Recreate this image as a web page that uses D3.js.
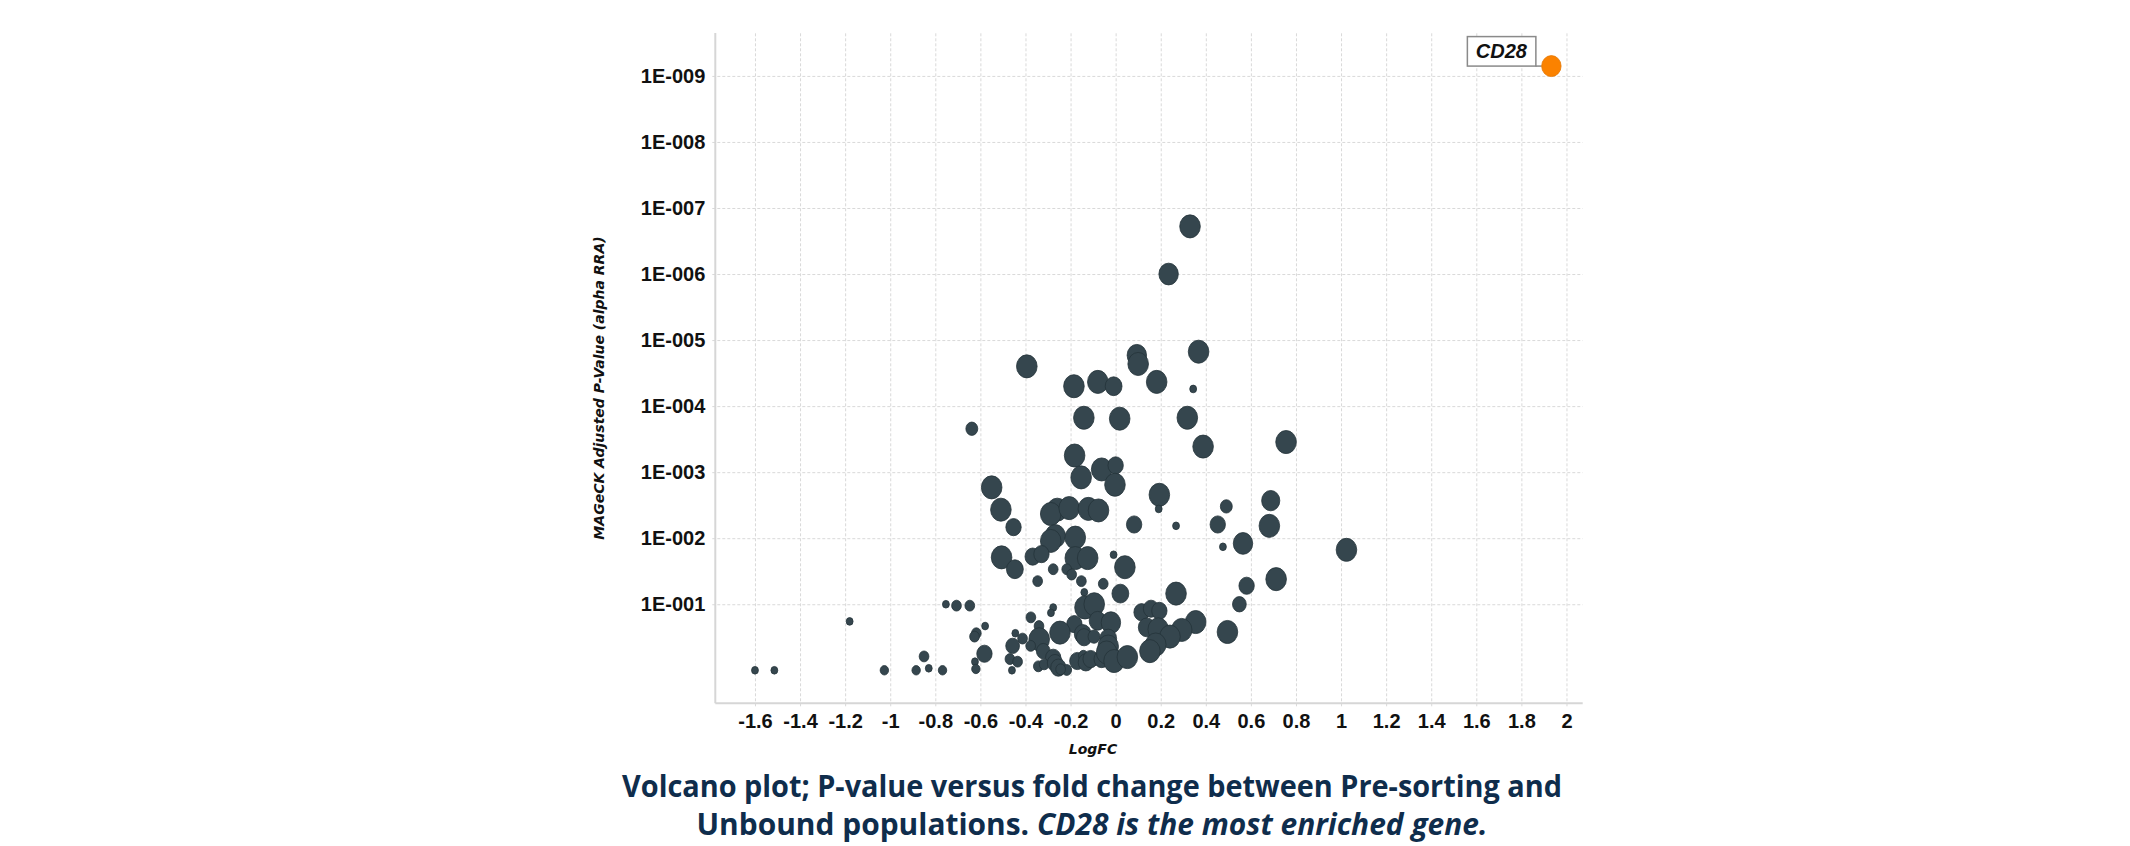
<!DOCTYPE html>
<html>
<head>
<meta charset="utf-8">
<script src="https://cdn.jsdelivr.net/npm/d3@7/dist/d3.min.js"></script>
<style>
	body { margin: 0; background: #fff; }
	svg { display: block; }
</style>
</head>
<body>
<svg id="chart" width="2130" height="846"></svg>
<script>
// x ticks / y ticks
var xTicks = [-1.6, -1.4, -1.2, -1, -0.8, -0.6, -0.4, -0.2, 0, 0.2, 0.4, 0.6, 0.8, 1, 1.2, 1.4, 1.6, 1.8, 2];
var yTicks = [1e-1, 1e-2, 1e-3, 1e-4, 1e-5, 1e-6, 1e-7, 1e-8, 1e-9];
var yTickLabels = ["1E-001", "1E-002", "1E-003", "1E-004", "1E-005", "1E-006", "1E-007", "1E-008", "1E-009"];

// genes (all but the highlighted one)
var logFC = [
	0.33, 0.235, 0.368, 0.094, 0.10, -0.394, -0.185, -0.079, -0.009, 0.182,
	0.344, -0.141, 0.018, 0.318, -0.638, 0.388, 0.756, -0.182, -0.062, 0.0,
	-0.153, -0.003, -0.55, 0.194, 0.191, 0.688, 0.491, -0.509, -0.259, -0.288,
	-0.206, -0.121, -0.076, -0.453, 0.082, 0.268, 0.453, 0.682, -0.268, -0.179,
	-0.288, 0.565, 0.476, 1.024, -0.506, -0.368, -0.329, -0.179, -0.124, -0.009,
	0.041, -0.447, -0.277, -0.217, -0.195, -0.346, -0.152, -0.055, 0.712, 0.581,
	0.021, 0.268, -0.139, -0.753, -0.706, -0.647, -0.277, -0.287, -0.136, -0.095,
	0.549, 0.115, 0.157, 0.194, -1.18, -0.376, -0.183, -0.08, -0.021, 0.355,
	-0.579, -0.34, -0.247, 0.138, 0.189, 0.293, 0.241, 0.496, -0.618, -0.626,
	-0.445, -0.413, -0.339, -0.146, -0.14, -0.096, -0.033, -0.457, -0.377, -0.321,
	-0.033, 0.178, 0.152, -0.582, -0.85, -0.277, -0.469, -0.435, -0.624, -0.46,
	-0.343, -0.317, -0.269, -0.254, -0.217, -0.244, -0.17, -0.143, -0.132, -0.111,
	-0.062, -0.04, -0.007, 0.052, -1.60, -1.514, -1.026, -0.885, -0.829, -0.768,
	-0.62
];
var pValue = [
	1.9e-7, 1.0e-6, 1.5e-5, 1.7e-5, 2.3e-5, 2.5e-5, 5.0e-5, 4.3e-5, 5.0e-5, 4.3e-5,
	5.5e-5, 1.5e-4, 1.55e-4, 1.5e-4, 2.2e-4, 4.1e-4, 3.5e-4, 5.6e-4, 9.1e-4, 7.9e-4,
	1.2e-3, 1.55e-3, 1.7e-3, 2.2e-3, 3.6e-3, 2.7e-3, 3.3e-3, 3.7e-3, 3.7e-3, 4.3e-3,
	3.5e-3, 3.6e-3, 3.8e-3, 6.8e-3, 6.2e-3, 6.5e-3, 6.2e-3, 6.5e-3, 9.3e-3, 9.8e-3,
	1.1e-2, 1.2e-2, 1.35e-2, 1.5e-2, 1.95e-2, 1.9e-2, 1.74e-2, 2.0e-2, 2.0e-2, 1.78e-2,
	2.75e-2, 2.95e-2, 2.95e-2, 2.95e-2, 3.55e-2, 4.47e-2, 4.47e-2, 4.9e-2, 4.17e-2, 5.25e-2,
	6.9e-2, 6.9e-2, 6.6e-2, 0.1, 0.105, 0.105, 0.112, 0.135, 0.112, 0.1,
	0.1, 0.132, 0.117, 0.126, 0.182, 0.158, 0.2, 0.178, 0.19, 0.186,
	0.214, 0.214, 0.269, 0.224, 0.24, 0.245, 0.309, 0.263, 0.275, 0.309,
	0.275, 0.331, 0.339, 0.282, 0.316, 0.309, 0.331, 0.427, 0.427, 0.513,
	0.437, 0.407, 0.513, 0.562, 0.617, 0.646, 0.676, 0.741, 0.741, 1.0,
	0.871, 0.813, 0.776, 0.912, 0.989, 0.966, 0.724, 0.603, 0.759, 0.676,
	0.676, 0.537, 0.724, 0.631, 1.0, 1.0, 1.0, 1.0, 0.933, 1.0,
	0.955
];
// marker size (relative)
var markerSize = [
	9, 8, 9, 8, 9, 9, 9, 9, 6, 9,
	1, 9, 9, 9, 3, 9, 9, 9, 9, 5,
	9, 9, 9, 9, 1, 7, 3, 9, 9, 9,
	9, 9, 9, 5, 5, 1, 5, 9, 9, 9,
	9, 8, 1, 9, 9, 5, 5, 9, 9, 1,
	9, 6, 2, 2, 2, 2, 2, 2, 9, 5,
	6, 9, 1, 1, 2, 2, 1, 1, 9, 9,
	4, 5, 5, 5, 1, 2, 5, 6, 8, 9,
	1, 2, 9, 6, 9, 9, 9, 9, 2, 2,
	1, 2, 9, 6, 5, 3, 6, 4, 2, 4,
	9, 9, 9, 5, 2, 5, 2, 2, 1, 1,
	2, 2, 5, 5, 2, 2, 5, 2, 5, 5,
	5, 9, 9, 9, 1, 1, 1.5, 1.5, 1, 1.5,
	1.5
];

// highlighted gene
var hiGene = ["CD28"];
var hiLogFC = [1.933];
var hiPValue = [7.1e-10];
var hiSize = [8];

var svg = d3.select("#chart");

var plotL = 715.3, plotR = 1582.7, plotT = 33, plotB = 703.3;

var x = d3.scaleLinear().domain([-1.776, 2.072]).range([plotL, plotR]);
var y = d3.scaleLog().domain([3.162, 2.24e-10]).range([plotB, plotT]);
var r = d3.scaleSqrt().domain([0, 9]).range([0, 10.3]);

// grid (sticks out 3px past the axes like little ticks)
svg.append("g")
	.attr("class", "grid-x")
	.attr("transform", "translate(0," + (plotB + 3) + ")")
	.call(d3.axisBottom(x).tickValues(xTicks).tickSize(-(plotB - plotT + 3)).tickSizeOuter(0).tickFormat(""))
	.call(function(g){ g.select(".domain").remove(); });

svg.append("g")
	.attr("class", "grid-y")
	.attr("transform", "translate(" + (plotL - 3) + ",0)")
	.call(d3.axisLeft(y).tickValues(yTicks).tickSize(-(plotR - plotL + 3)).tickSizeOuter(0).tickFormat(""))
	.call(function(g){ g.select(".domain").remove(); });

svg.selectAll(".grid-x line, .grid-y line")
	.attr("stroke", "#d9d9d9")
	.attr("stroke-width", 1)
	.attr("stroke-dasharray", "3,2");

// axis lines
svg.append("line")
	.attr("x1", plotL).attr("x2", plotL).attr("y1", plotT).attr("y2", plotB)
	.attr("stroke", "#d6d6d6").attr("stroke-width", 2);
svg.append("line")
	.attr("x1", plotL).attr("x2", plotR).attr("y1", plotB).attr("y2", plotB)
	.attr("stroke", "#d6d6d6").attr("stroke-width", 2);

// tick labels
var xAxis = svg.append("g")
	.attr("transform", "translate(0," + plotB + ")")
	.call(d3.axisBottom(x).tickValues(xTicks).tickSize(0).tickPadding(11)
		.tickFormat(function(d){ return String(Math.round(d * 10) / 10); }));
xAxis.select(".domain").remove();
xAxis.selectAll("text")
	.attr("font-family", "'Liberation Sans', Arial, sans-serif")
	.attr("font-weight", "bold")
	.attr("font-size", 20)
	.attr("fill", "#111");

var yAxis = svg.append("g")
	.attr("transform", "translate(" + plotL + ",0)")
	.call(d3.axisLeft(y).tickValues(yTicks).tickSize(0).tickPadding(10)
		.tickFormat(function(d, i){ return yTickLabels[i]; }));
yAxis.select(".domain").remove();
yAxis.selectAll("text")
	.attr("font-family", "'Liberation Sans', Arial, sans-serif")
	.attr("font-weight", "bold")
	.attr("font-size", 20)
	.attr("fill", "#111");

// axis titles
svg.append("text")
	.attr("transform", "translate(604,388) rotate(-90)")
	.attr("text-anchor", "middle")
	.attr("font-family", "'DejaVu Sans', Verdana, sans-serif")
	.attr("font-weight", "bold")
	.attr("font-style", "italic")
	.attr("font-size", 14)
	.attr("fill", "#111")
	.text("MAGeCK Adjusted P-Value (alpha RRA)");

svg.append("text")
	.attr("x", 1093)
	.attr("y", 754)
	.attr("text-anchor", "middle")
	.attr("font-family", "'DejaVu Sans', Verdana, sans-serif")
	.attr("font-weight", "bold")
	.attr("font-style", "italic")
	.attr("font-size", 14)
	.attr("fill", "#111")
	.text("LogFC");

// points
var pts = logFC.map(function(d, i){ return {x: d, p: pValue[i], s: markerSize[i]}; });

svg.append("g")
	.selectAll("ellipse")
	.data(pts)
	.enter()
	.append("ellipse")
	.attr("cx", function(d){ return x(d.x); })
	.attr("cy", function(d){ return y(d.p); })
	.attr("rx", function(d){ return r(d.s); })
	.attr("ry", function(d){ return r(d.s) * 1.12; })
	.attr("fill", "#35464e")
	.attr("stroke", "#25343a")
	.attr("stroke-width", 0.8);

// highlighted gene + label
var hi = hiGene.map(function(g, i){ return {name: g, x: hiLogFC[i], p: hiPValue[i], s: hiSize[i]}; });

var hg = svg.append("g").selectAll("g").data(hi).enter().append("g");

hg.append("line")
	.attr("x1", function(d){ return x(d.x) - 16; })
	.attr("x2", function(d){ return x(d.x) - r(d.s); })
	.attr("y1", function(d){ return y(d.p); })
	.attr("y2", function(d){ return y(d.p); })
	.attr("stroke", "#888").attr("stroke-width", 1.5);

hg.append("rect")
	.attr("x", function(d){ return x(d.x) - 84; })
	.attr("y", function(d){ return y(d.p) - 29.5; })
	.attr("width", 68.5)
	.attr("height", 29.5)
	.attr("fill", "#fff")
	.attr("stroke", "#8a8a8a")
	.attr("stroke-width", 1.5);

hg.append("text")
	.attr("x", function(d){ return x(d.x) - 50; })
	.attr("y", function(d){ return y(d.p) - 8; })
	.attr("text-anchor", "middle")
	.attr("font-family", "'Liberation Sans', Arial, sans-serif")
	.attr("font-weight", "bold")
	.attr("font-style", "italic")
	.attr("font-size", 20)
	.attr("fill", "#111")
	.text(function(d){ return d.name; });

hg.append("ellipse")
	.attr("cx", function(d){ return x(d.x); })
	.attr("cy", function(d){ return y(d.p); })
	.attr("rx", function(d){ return r(d.s); })
	.attr("ry", function(d){ return r(d.s) * 1.08; })
	.attr("fill", "#fb8200")
	.attr("stroke", "#e57600")
	.attr("stroke-width", 0.8);

// caption
svg.append("text")
	.attr("x", 1092)
	.attr("y", 797)
	.attr("text-anchor", "middle")
	.attr("font-family", "'Open Sans', 'Noto Sans', sans-serif")
	.attr("font-weight", "bold")
	.attr("font-size", 31)
	.attr("fill", "#0f2d4c")
	.attr("textLength", 940)
	.attr("lengthAdjust", "spacingAndGlyphs")
	.text("Volcano plot; P-value versus fold change between Pre-sorting and");

var cap2 = svg.append("text")
	.attr("x", 1092)
	.attr("y", 835)
	.attr("text-anchor", "middle")
	.attr("font-family", "'Open Sans', 'Noto Sans', sans-serif")
	.attr("font-weight", "bold")
	.attr("font-size", 31)
	.attr("fill", "#0f2d4c")
	.attr("textLength", 791)
	.attr("lengthAdjust", "spacingAndGlyphs");
cap2.append("tspan").text("Unbound populations. ");
cap2.append("tspan").attr("font-style", "italic").text("CD28 is the most enriched gene.");
</script>
</body>
</html>
